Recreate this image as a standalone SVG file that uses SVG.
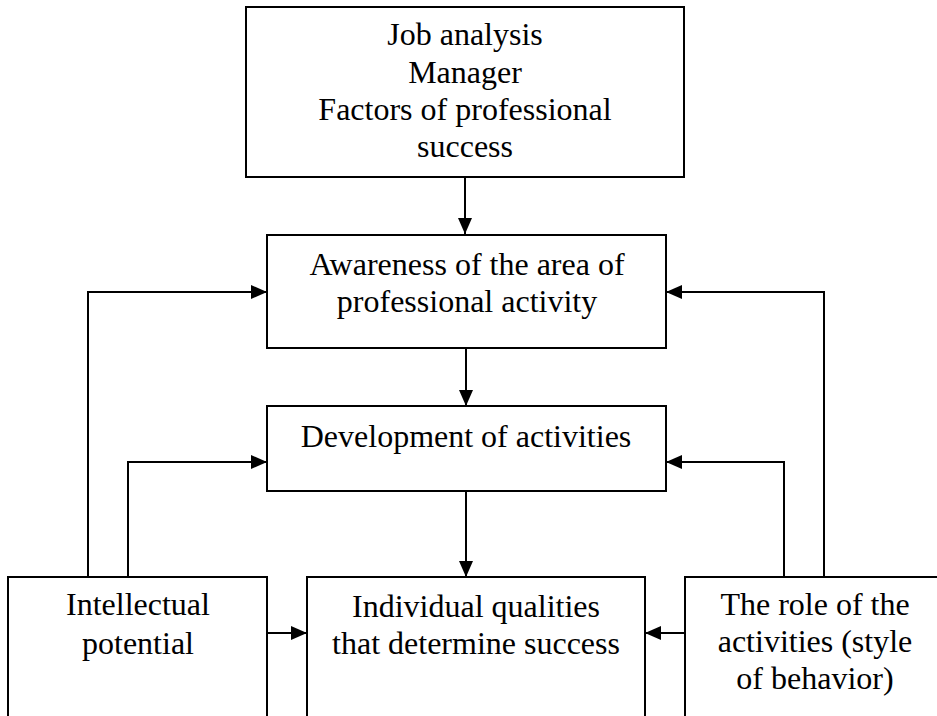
<svg xmlns="http://www.w3.org/2000/svg" width="937" height="716" viewBox="0 0 937 716">
  <style>
    .box { fill: #fff; stroke: #000; stroke-width: 2; }
    .lbl { font-family: "Liberation Serif", "Times New Roman", serif; font-size: 32px; fill: #000; text-anchor: middle; }
    .wire { fill: none; stroke: #000; stroke-width: 2; }
  </style>
  <defs>
    <marker id="head" viewBox="0 0 16 14" refX="16" refY="7" markerWidth="16" markerHeight="14" markerUnits="userSpaceOnUse" orient="auto">
      <path d="M0,0 L16,7 L0,14 Z" fill="#000"/>
    </marker>
  </defs>
  <rect width="937" height="716" fill="#fff"/>

  <g id="connectors">
    <line class="wire" x1="465" y1="177" x2="465" y2="234" marker-end="url(#head)"/>
    <line class="wire" x1="466" y1="348" x2="466" y2="406" marker-end="url(#head)"/>
    <line class="wire" x1="466" y1="491" x2="466" y2="577" marker-end="url(#head)"/>
    <polyline class="wire" points="88,577 88,292 267,292" marker-end="url(#head)"/>
    <polyline class="wire" points="128,577 128,462 267,462" marker-end="url(#head)"/>
    <polyline class="wire" points="824,577 824,292 666,292" marker-end="url(#head)"/>
    <polyline class="wire" points="784,577 784,462 666,462" marker-end="url(#head)"/>
    <line class="wire" x1="267" y1="633" x2="307" y2="633" marker-end="url(#head)"/>
    <line class="wire" x1="685" y1="633" x2="645" y2="633" marker-end="url(#head)"/>
  </g>

  <g id="job-analysis">
    <rect class="box" x="246" y="7" width="438" height="170"/>
    <text class="lbl" x="465" y="45">Job analysis</text>
    <text class="lbl" x="465" y="83">Manager</text>
    <text class="lbl" x="465" y="120">Factors of professional</text>
    <text class="lbl" x="465" y="157">success</text>
  </g>

  <g id="awareness">
    <rect class="box" x="267" y="235" width="399" height="113"/>
    <text class="lbl" x="467" y="275">Awareness of the area of</text>
    <text class="lbl" x="467" y="312">professional activity</text>
  </g>

  <g id="development">
    <rect class="box" x="267" y="406" width="399" height="85"/>
    <text class="lbl" x="466" y="447">Development of activities</text>
  </g>

  <g id="intellectual">
    <rect class="box" x="8" y="577" width="259" height="150"/>
    <text class="lbl" x="138" y="615">Intellectual</text>
    <text class="lbl" x="138" y="654">potential</text>
  </g>

  <g id="qualities">
    <rect class="box" x="307" y="577" width="338" height="150"/>
    <text class="lbl" x="476" y="617">Individual qualities</text>
    <text class="lbl" x="476" y="654">that determine success</text>
  </g>

  <g id="role">
    <rect class="box" x="685" y="577" width="262" height="150"/>
    <text class="lbl" x="815" y="615">The role of the</text>
    <text class="lbl" x="815" y="652">activities (style</text>
    <text class="lbl" x="815" y="689">of behavior)</text>
  </g>
</svg>
